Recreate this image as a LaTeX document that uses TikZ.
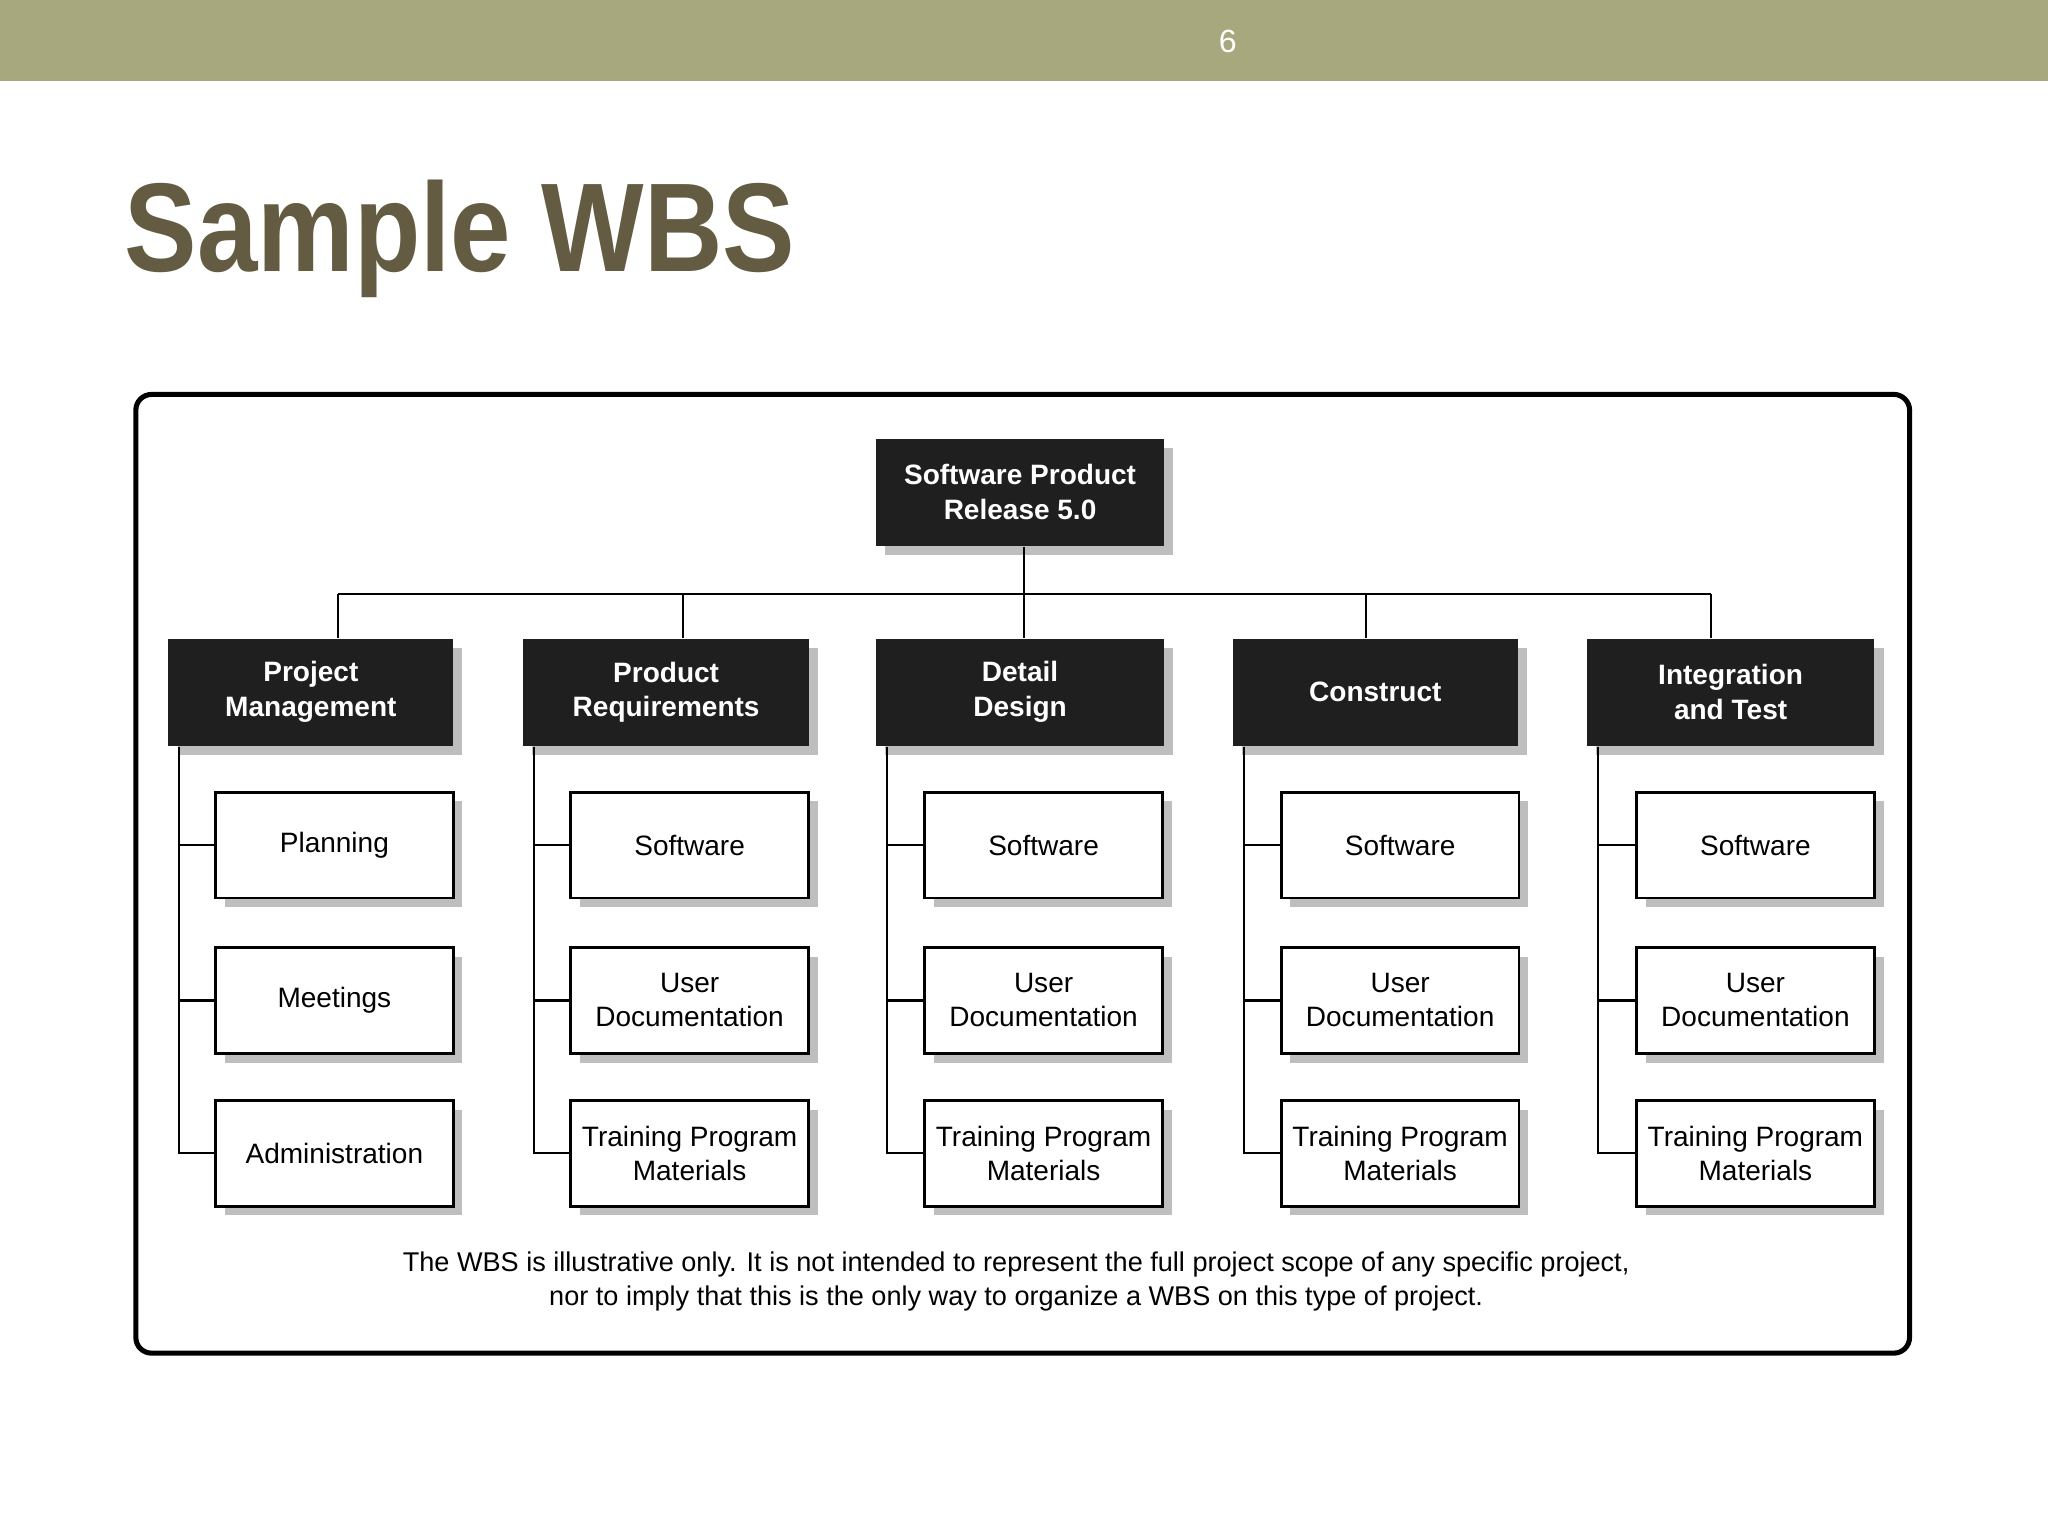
\documentclass[tikz,border=0pt]{standalone}
\usepackage{fontspec}
\setmainfont{Liberation Sans}
\usetikzlibrary{shadows}
\definecolor{band}{RGB}{168,168,126}
\definecolor{titlec}{RGB}{100,92,66}
\definecolor{shade}{RGB}{190,190,190}
\begin{document}
\begin{tikzpicture}[x=0.01cm,y=-0.01cm,
  sh/.style={drop shadow={shadow xshift=0.07cm,shadow yshift=-0.07cm,fill=shade,opacity=1}},
  top/.style={sh,fill=black!88,text=white,font=\fontsize{6.1}{7.6}\selectfont\bfseries,align=center,inner sep=0pt,minimum height=0.82cm},
  leaf/.style={sh,draw,line width=0.6pt,fill=white,font=\fontsize{6.1}{7.4}\selectfont,align=center,inner sep=0pt,minimum width=1.82cm,minimum height=0.81cm},
  link/.style={line width=0.5pt}]
\useasboundingbox (0,0) rectangle (1568,1176);
\fill[white] (0,0) rectangle (1568,1176);
\fill[band] (0,0) rectangle (1568,62);
\node (pg) at (940,32) {\textcolor{white}{\fontsize{7}{8}\selectfont 6}};
\node[anchor=base west,inner sep=0pt,text=titlec,font=\fontsize{27.5}{30}\selectfont\bfseries] (title) at (95,208) {\scalebox{0.86}[1]{Sample WBS}};
\draw[line width=1.1pt,rounded corners=0.12cm] (104,302) rectangle (1462,1036);

\node[top,minimum width=2.2cm] (root) at (781,377) {Software Product\\Release 5.0};
\node[top,minimum width=2.18cm] (pm) at (238,530) {Project\\Management};
\node[top,minimum width=2.19cm] (pr) at (510,530) {Product\\Requirements};
\node[top,minimum width=2.2cm] (dd) at (781,530) {Detail\\Design};
\node[top,minimum width=2.18cm] (co) at (1053,530) {Construct};
\node[top,minimum width=2.2cm] (it) at (1325,530) {Integration\\and Test};

\coordinate (bar) at (0,455);
\coordinate (rs) at (784,0);
\draw[link] (rs |- root.south) -- (rs |- bar);
\foreach \n/\x in {pm/259,pr/523,dd/784,co/1046,it/1310}
  \draw[link] (\x,0 |- \n.north) -- (\x,455);
\draw[link] (259,455) -- (1310,455);

\node[leaf] (pm1) at (256,647) {Planning};
\node[leaf] (pm2) at (256,766) {Meetings};
\node[leaf] (pm3) at (256,883) {Administration};
\foreach \c/\x in {pr/528,dd/799,co/1072,it/1344}{
  \node[leaf] (\c1) at (\x,647) {Software};
  \node[leaf] (\c2) at (\x,766) {User\\Documentation};
  \node[leaf] (\c3) at (\x,883) {Training Program\\Materials};
}
\foreach \c in {pm,pr,dd,co,it}{
  \foreach \k in {1,2,3} \draw[link] ([xshift=0.09cm]\c.south west) |- (\c\k.west);
}

\node[font=\fontsize{5.9}{7.4}\selectfont,align=center] (note) at (778,981) {The WBS is illustrative only. It is not intended to represent the full project scope of any specific project,\\nor to imply that this is the only way to organize a WBS on this type of project.};
\end{tikzpicture}
\end{document}
